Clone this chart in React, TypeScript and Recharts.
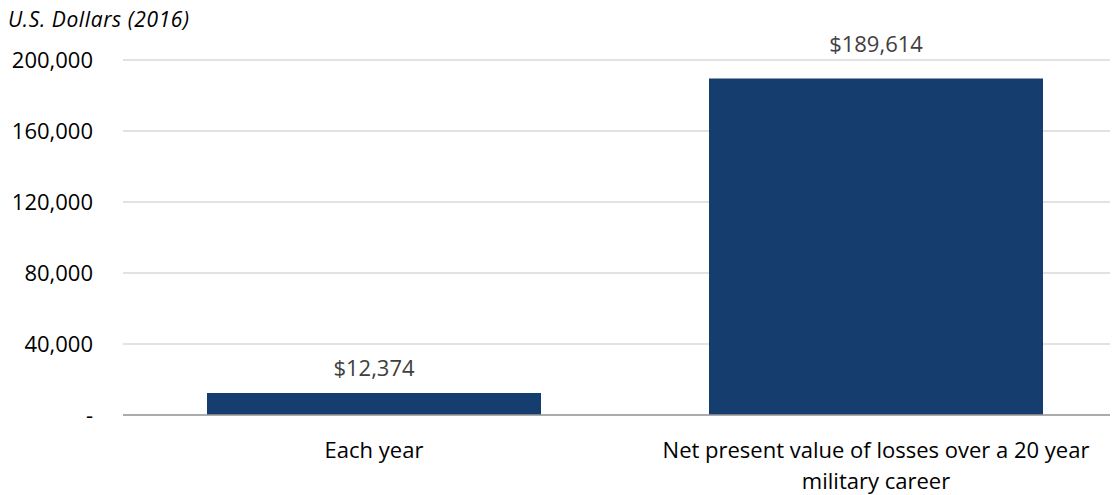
import React from 'react';
import { BarChart, Bar, XAxis, YAxis, CartesianGrid, LabelList } from 'recharts';

const categories = ['Each year', 'Net present value of losses over a 20 year military career'];
const losses = [12374, 189614];
const yTicks = [0, 40000, 80000, 120000, 160000, 200000];

const data = categories.map((c, i) => ({ name: c, value: losses[i] }));

const FONT = '"Open Sans", sans-serif';

let measureCtx: CanvasRenderingContext2D | null = null;
function measure(text: string, font: string): number {
  if (!measureCtx && typeof document !== 'undefined') {
    measureCtx = document.createElement('canvas').getContext('2d');
  }
  if (!measureCtx) return text.length * 11;
  measureCtx.font = font;
  return measureCtx.measureText(text).width;
}

function wrap(text: string, maxWidth: number, font: string): string[] {
  const words = text.split(' ');
  const lines: string[] = [];
  let cur = '';
  words.forEach((w) => {
    const next = cur ? cur + ' ' + w : w;
    if (cur && measure(next, font) > maxWidth) {
      lines.push(cur);
      cur = w;
    } else {
      cur = next;
    }
  });
  if (cur) lines.push(cur);
  return lines;
}

const XTick = (props: any) => {
  const { x, y, payload } = props;
  const lines = wrap(String(payload.value), 460, '22px "Open Sans"');
  return (
    <text
      x={x}
      y={y}
      textAnchor="middle"
      fontFamily={FONT}
      fontSize={22}
      fill="#000000"
    >
      {lines.map((l, i) => (
        <tspan key={i} x={x} y={Number(y) + 35 + i * 31}>
          {l}
        </tspan>
      ))}
    </text>
  );
};

const labelGaps = [17, 26];

const BarLabel = (props: any) => {
  const { x, y, width, value, index } = props;
  return (
    <text
      x={Number(x) + Number(width) / 2}
      y={Number(y) - labelGaps[index]}
      textAnchor="middle"
      fontFamily={FONT}
      fontSize={22}
      fill="#404040"
    >
      {'$' + Number(value).toLocaleString('en-US')}
    </text>
  );
};

export default function App() {
  return (
    <div style={{ position: 'relative', width: 1110, height: 487 }}>
      <div style={{ width: 1110, height: 487, overflow: 'hidden' }}>
        <BarChart
          width={1125}
          height={487}
          data={data}
          margin={{ top: 52, right: 6, left: 0, bottom: 0 }}
          barCategoryGap={84}
        >
          <CartesianGrid vertical={false} stroke="#d9d9d9" strokeWidth={1.4} />
          <XAxis
            dataKey="name"
            height={80}
            axisLine={{ stroke: '#9a9a9a', strokeWidth: 1.6 }}
            tickLine={false}
            interval={0}
            tick={<XTick />}
          />
          <YAxis
            width={115}
            domain={[0, 200000]}
            ticks={yTicks}
            axisLine={false}
            tickLine={false}
            tickSize={0}
            tickMargin={30}
            tick={{ fontFamily: FONT, fontSize: 22, fill: '#000000' }}
            tickFormatter={(v: number) => (v === 0 ? '-' : v.toLocaleString('en-US'))}
          />
          <Bar dataKey="value" fill="#153E6E" isAnimationActive={false}>
            <LabelList dataKey="value" content={<BarLabel />} />
          </Bar>
        </BarChart>
      </div>
      <div
        style={{
          position: 'absolute',
          left: 0,
          top: -3,
          fontFamily: FONT,
          fontStyle: 'italic',
          fontSize: 21,
          letterSpacing: 0.6,
          color: '#000',
          whiteSpace: 'nowrap',
        }}
      >
        U.S. Dollars (2016)
      </div>
    </div>
  );
}
